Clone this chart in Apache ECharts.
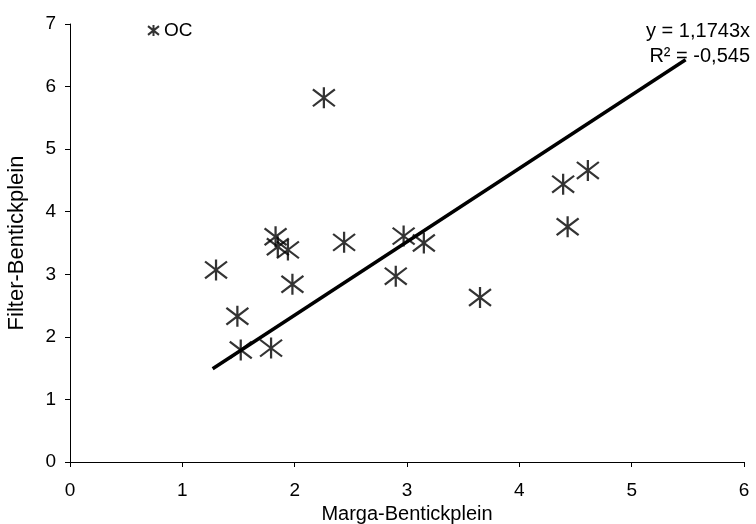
<!DOCTYPE html>
<html>
<head>
<meta charset="utf-8">
<script src="https://cdn.jsdelivr.net/npm/echarts@6/dist/echarts.min.js"></script>
<style>
  html, body { margin: 0; padding: 0; background: #fff; }
  #chart { width: 756px; height: 524px; }
</style>
</head>
<body>
<div id="chart"></div>
<script>
// 数据
var ocX = [2.26, 1.30, 1.49, 1.52, 1.79, 1.83, 1.85, 1.94, 1.98, 2.44, 2.97, 3.15, 2.90, 3.65, 4.39, 4.61, 4.43];
var ocY = [5.82, 3.07, 2.33, 1.79, 1.82, 3.60, 3.44, 3.39, 2.84, 3.51, 3.61, 3.50, 2.97, 2.63, 4.44, 4.66, 3.76];
var trendX = [1.27, 5.48];
var trendY = [1.49, 6.43];
var xTicks = [0, 1, 2, 3, 4, 5, 6];
var yTicks = [0, 1, 2, 3, 4, 5, 6, 7];

// 星形标记
var star = "path://M10,0 L10,20 M0,2 L20,18 M0,18 L20,2";

var chart = echarts.init(document.getElementById("chart"));
var font = "Liberation Sans, Arial, sans-serif";

var option = {
  animation: false,
  textStyle: { fontFamily: font },
  grid: { left: 70, right: 12, top: 24, bottom: 62, containLabel: false, outerBoundsMode: "none" },
  legend: {
    left: 142,
    top: 16,
    itemWidth: 11,
    itemHeight: 11,
    itemGap: 6,
    data: ["OC"],
    textStyle: { fontSize: 19, color: "#000", fontFamily: font }
  },
  xAxis: {
    type: "value",
    min: xTicks[0],
    max: xTicks[xTicks.length - 1],
    interval: 1,
    name: "Marga-Bentickplein",
    nameLocation: "middle",
    nameGap: 38,
    nameTextStyle: { fontSize: 20, color: "#000" },
    axisLine: { lineStyle: { color: "#000", width: 1 } },
    axisTick: { show: true, length: 5, lineStyle: { color: "#000" } },
    axisLabel: { fontSize: 19, color: "#000", margin: 19 },
    splitLine: { show: false }
  },
  yAxis: {
    type: "value",
    min: yTicks[0],
    max: yTicks[yTicks.length - 1],
    interval: 1,
    name: "Filter-Bentickplein",
    nameLocation: "middle",
    nameGap: 42,
    nameTextStyle: { fontSize: 22, color: "#000" },
    axisLine: { show: true, lineStyle: { color: "#000", width: 1 } },
    axisTick: { show: true, length: 5, lineStyle: { color: "#000" } },
    axisLabel: { fontSize: 19, color: "#000", margin: 14 },
    splitLine: { show: false }
  },
  series: [
    {
      name: "OC",
      type: "scatter",
      symbol: star,
      symbolSize: [22, 21],
      data: ocX.map(function (x, i) { return [x, ocY[i]]; }),
      itemStyle: { color: "rgba(0,0,0,0)", borderColor: "#000", borderWidth: 2.2 },
      z: 3
    },
    {
      name: "trend",
      type: "line",
      data: trendX.map(function (x, i) { return [x, trendY[i]]; }),
      symbol: "none",
      lineStyle: { color: "#000", width: 3.5 },
      z: 2
    }
  ],
  graphic: [
    {
      type: "text",
      right: 6,
      top: 21,
      style: { text: "y = 1,1743x", font: "20px " + font, fill: "#000", textAlign: "right" }
    },
    {
      type: "text",
      right: 6,
      top: 46,
      style: { text: "R² = -0,545", font: "20px " + font, fill: "#000", textAlign: "right" }
    }
  ]
};
chart.setOption(option);
</script>
</body>
</html>
